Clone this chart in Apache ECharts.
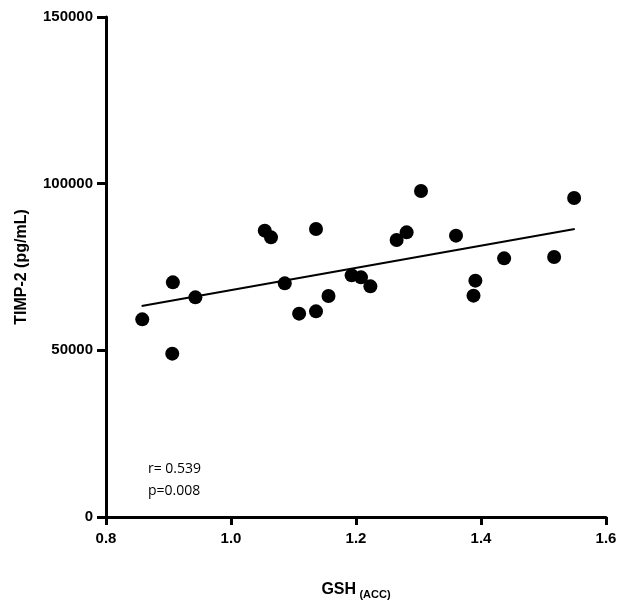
<!DOCTYPE html>
<html>
<head>
<meta charset="utf-8" />
<title>TIMP-2 vs GSH</title>
<script src="https://cdn.jsdelivr.net/npm/echarts@6/dist/echarts.min.js"></script>
<style>
  html, body { margin: 0; padding: 0; background: #fff; }
  #chart { width: 624px; height: 606px; }
</style>
</head>
<body>
<div id="chart"></div>
<script>
// GSH (ACC) values
var gsh = [0.858, 0.907, 0.906, 0.943, 1.054, 1.064, 1.086, 1.109, 1.136, 1.136, 1.156, 1.193,
           1.208, 1.223, 1.265, 1.281, 1.304, 1.360, 1.388, 1.391, 1.437, 1.517, 1.549];
// TIMP-2 (pg/mL)
var timp2 = [59300, 70400, 49000, 65900, 85900, 83900, 70100, 61000, 86400, 61700, 66300, 72500,
             71900, 69200, 83100, 85400, 97800, 84400, 66400, 70900, 77600, 78000, 95700];
// fitted line end points
var fitX = [0.857, 1.550];
var fitY = [63300, 86400];

var points = [];
for (var i = 0; i < gsh.length; i++) {
    points.push([gsh[i], timp2[i]]);
}
var fitLine = [[fitX[0], fitY[0]], [fitX[1], fitY[1]]];

var tickFont = { fontFamily: 'Liberation Sans', fontWeight: 'bold', fontSize: 15, color: '#000' };

var myChart = echarts.init(document.getElementById('chart'));
myChart.setOption({
    animation: false,
    grid: { left: 106, top: 17, right: 18, bottom: 89 },
    xAxis: {
        type: 'value',
        min: 0.8,
        max: 1.6,
        interval: 0.2,
        name: '{main|GSH} {sub|(ACC)}',
        nameLocation: 'middle',
        nameGap: 62,
        nameTextStyle: {
            rich: {
                main: { fontFamily: 'Liberation Sans', fontWeight: 'bold', fontSize: 16, color: '#000' },
                sub: { fontFamily: 'Liberation Sans', fontWeight: 'bold', fontSize: 11, color: '#000', padding: [10, 0, 0, 0] }
            }
        },
        axisLine: { lineStyle: { color: '#000', width: 3 } },
        axisTick: { length: 8, lineStyle: { color: '#000', width: 3 } },
        axisLabel: Object.assign({ margin: 14, formatter: function (v) { return v.toFixed(1); } }, tickFont),
        splitLine: { show: false }
    },
    yAxis: {
        type: 'value',
        min: 0,
        max: 150000,
        interval: 50000,
        name: 'TIMP-2 (pg/mL)',
        nameLocation: 'middle',
        nameGap: 76,
        nameTextStyle: { fontFamily: 'Liberation Sans', fontWeight: 'bold', fontSize: 16, color: '#000' },
        axisLine: { show: true, lineStyle: { color: '#000', width: 3 } },
        axisTick: { show: true, length: 9, lineStyle: { color: '#000', width: 3 } },
        axisLabel: Object.assign({ margin: 13, formatter: function (v) { return String(v); } }, tickFont),
        splitLine: { show: false }
    },
    graphic: [{
        type: 'text',
        left: 148,
        top: 458,
        style: {
            text: 'r= 0.539\np=0.008',
            font: '14px "Open Sans"',
            lineHeight: 22,
            fill: '#000'
        }
    }],
    series: [{
        type: 'line',
        data: fitLine,
        symbol: 'none',
        lineStyle: { color: '#000', width: 2 },
        z: 2
    }, {
        type: 'scatter',
        data: points,
        symbol: 'circle',
        symbolSize: 14,
        itemStyle: { color: '#000', opacity: 1 },
        z: 3
    }]
});
</script>
</body>
</html>
